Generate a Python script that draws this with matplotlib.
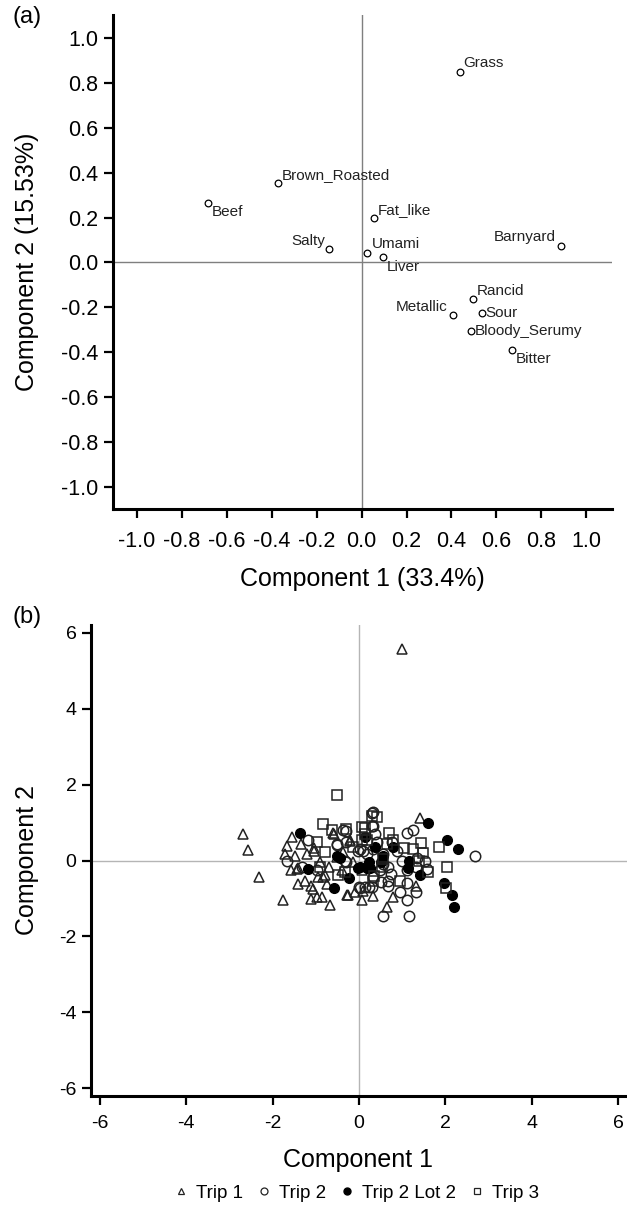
import matplotlib
matplotlib.use("Agg")
import matplotlib.pyplot as plt
from matplotlib.lines import Line2D

plt.rcParams['font.family'] = ['Liberation Sans', 'DejaVu Sans']
plt.rcParams['axes.unicode_minus'] = False

# ---------------- Panel (a) data: attribute loadings ----------------
attributes = ["Grass", "Brown_Roasted", "Beef", "Fat_like", "Salty", "Umami", "Liver",
              "Barnyard", "Rancid", "Metallic", "Sour", "Bloody_Serumy", "Bitter"]
load_c1 = [0.437, -0.374, -0.686, 0.053, -0.143, 0.026, 0.094,
           0.886, 0.495, 0.405, 0.535, 0.486, 0.668]
load_c2 = [0.848, 0.353, 0.263, 0.200, 0.062, 0.040, 0.023,
           0.073, -0.165, -0.232, -0.224, -0.304, -0.388]
ticks_a = [-1.0, -0.8, -0.6, -0.4, -0.2, 0.0, 0.2, 0.4, 0.6, 0.8, 1.0]

# ---------------- Panel (b) data: sample scores ----------------
trip1_x = [-2.68, -2.57, -2.32, -1.76, -1.66, -1.54, -1.71, -1.57, -1.43, -1.40, -1.26, -1.10,
           -1.07, -0.98, -0.85, -0.68, -1.03, -1.21, -1.35, -1.48, -0.90, -0.83, -0.75, -0.69,
           -0.58, -0.36, -0.21, -0.26, -0.10, 0.07, 0.32, 0.10, -0.52, -1.12, -0.96, -0.40,
           -0.13, 0.06, 1.41, 1.32, 0.78, 0.64, -0.59, -0.21, -0.27, -1.04, -1.41, -0.79, 1.00]
trip1_y = [0.70, 0.28, -0.44, -1.04, 0.39, 0.61, 0.16, -0.26, -0.22, -0.63, -0.53, -1.01,
           -0.75, -0.95, -0.96, -1.16, 0.25, 0.16, 0.44, 0.11, -0.04, -0.44, -0.61, -0.16,
           0.70, 0.22, 0.51, -0.92, -0.83, -1.04, -0.94, -0.79, 0.09, -0.66, -0.44, -0.26,
           -0.04, -0.26, 1.12, -0.68, -0.95, -1.23, 0.72, 0.53, -0.92, 0.32, -0.21, -0.39, 5.58]

trip2_x = [-1.19, -1.67, -0.52, -0.38, -0.29, 0.02, 0.29, 0.33, 0.37, 0.02, 0.22, -0.30,
           -1.33, -0.98, 0.18, 1.12, 1.26, 2.69, 0.56, 1.15, 1.10, 0.95, 0.68, 0.68, 1.10,
           1.31, 0.50, 0.99, 1.33, 1.53, 1.58, 1.10, 0.74, 0.68, 0.56, 0.56, 0.87, 1.35,
           0.76, 0.49, 0.29, -0.52, -0.30, 0.10, -0.02, 0.33, 0.41, 0.32, 0.29, 0.14, 0.01,
           0.33, -0.32]
trip2_y = [0.53, 0.00, 0.42, 0.79, 0.77, 0.31, 1.25, 0.92, 0.70, -0.72, -0.70, -0.03,
           -0.18, -0.25, 0.18, 0.72, 0.81, 0.11, -1.47, -1.47, -1.05, -0.83, -0.68, -0.53,
           -0.60, -0.82, -0.57, 0.00, -0.18, 0.00, -0.22, -0.26, -0.35, -0.18, 0.18, -0.09,
           0.26, 0.06, 0.48, -0.26, -0.70, 0.44, 0.48, 0.26, 0.25, 0.31, 0.48, 1.27, 0.92,
           -0.70, -0.70, -0.44, 0.00]

lot2_x = [-1.37, -1.17, -0.58, -0.24, -0.52, -0.44, 0.02, 0.22, 0.18, 1.59, 2.04, 2.30,
          1.97, 2.15, 2.20, 1.41, 1.16, 1.14, 0.79, 0.56, 0.52, -0.02, 0.25, 0.14, 0.37]
lot2_y = [0.72, -0.22, -0.72, -0.46, 0.11, 0.07, -0.18, -0.04, -0.19, 0.98, 0.55, 0.29,
          -0.58, -0.92, -1.23, -0.39, 0.00, -0.19, 0.35, 0.13, -0.04, -0.19, -0.19, 0.61, 0.35]

trip3_x = [-0.51, -0.83, -0.63, -0.29, -0.98, -0.79, -0.48, -0.32, -0.15, 0.08, 0.14, 0.41,
           0.08, 0.33, -0.90, 0.70, 0.78, 0.64, 1.04, 1.24, 1.43, 1.49, 1.84, 2.03, 2.01,
           1.59, 1.38, 0.95, 0.54, 0.56, 0.35, 0.29, 0.14, 0.18]
trip3_y = [1.72, 0.96, 0.81, 0.83, 0.50, 0.22, -0.37, -0.31, 0.35, 0.53, 0.70, 1.14,
           0.88, -0.53, -0.18, 0.73, 0.53, 0.44, 0.33, 0.29, 0.46, 0.19, 0.35, -0.16, -0.72,
           -0.31, -0.02, -0.54, -0.18, 0.03, -0.42, 1.16, 0.86, 0.53]

legend_labels = ["Trip 1", "Trip 2", "Trip 2 Lot 2", "Trip 3"]
ticks_b = [-6, -4, -2, 0, 2, 4, 6]

# ---------------- layout / style ----------------
W, H = 627, 1205
fig = plt.figure(figsize=(W / 100, H / 100), dpi=100)

def px_axes(l, t, r, b):
    return fig.add_axes([l / W, 1 - b / H, (r - l) / W, (b - t) / H])

def style(ax, size, xpad, ypad):
    for s in ['top', 'right']:
        ax.spines[s].set_visible(False)
    for s in ['left', 'bottom']:
        ax.spines[s].set_linewidth(2.2)
    ax.tick_params(direction='out', length=6.5, width=1.6, labelsize=size)
    ax.tick_params(axis='x', pad=xpad)
    ax.tick_params(axis='y', pad=ypad)

# label offsets in pixels (dx, dy, ha)
offsets = {"Grass": (4, 9, 'left'), "Brown_Roasted": (4, 8, 'left'), "Beef": (4, -9, 'left'),
           "Fat_like": (4, 8, 'left'), "Salty": (-4, 8, 'right'), "Umami": (4, 9, 'left'),
           "Liver": (4, -10, 'left'), "Barnyard": (-5, 9, 'right'), "Rancid": (4, 8, 'left'),
           "Metallic": (-5, 8, 'right'), "Sour": (4, 0, 'left'), "Bloody_Serumy": (4, 0, 'left'),
           "Bitter": (4, -9, 'left')}

# Panel (a)
ax1 = px_axes(113, 15, 612, 509)
ax1.axhline(0, color='#7f7f7f', lw=1.0, zorder=1)
ax1.axvline(0, color='#7f7f7f', lw=1.0, zorder=1)
ax1.plot(load_c1, load_c2, linestyle='none', marker='o', ms=4.8, mfc='none',
         mec='black', mew=0.9, zorder=3)
for name, x, y in zip(attributes, load_c1, load_c2):
    dx, dy, ha = offsets[name]
    ax1.annotate(name, (x, y), xytext=(dx * 0.72, dy * 0.72), textcoords='offset points',
                 ha=ha, va='center', fontsize=11, color='#222222')
ax1.set_xlim(-1.107, 1.115)
ax1.set_ylim(-1.098, 1.102)
ax1.set_xticks(ticks_a)
ax1.set_yticks(ticks_a)
ax1.set_xticklabels([f"{t:.1f}" for t in ticks_a])
ax1.set_yticklabels([f"{t:.1f}" for t in ticks_a])
style(ax1, 15.5, 9, 4)

# Panel (b)
ax2 = px_axes(91, 625, 627, 1096)
ax2.axhline(0, color='#b5b5b5', lw=1.0, zorder=1)
ax2.axvline(0, color='#b5b5b5', lw=1.0, zorder=1)
ax2.plot(trip1_x, trip1_y, linestyle='none', marker='^', ms=7.5, mfc='none', mec='#222222', mew=1.1)
ax2.plot(trip2_x, trip2_y, linestyle='none', marker='o', ms=7.5, mfc='none', mec='#222222', mew=1.1)
ax2.plot(lot2_x, lot2_y, linestyle='none', marker='o', ms=7.0, mfc='black', mec='black', mew=1.0)
ax2.plot(trip3_x, trip3_y, linestyle='none', marker='s', ms=7.0, mfc='none', mec='#222222', mew=1.1)
ax2.set_xlim(-6.2, 6.2)
ax2.set_ylim(-6.2, 6.2)
ax2.set_xticks(ticks_b)
ax2.set_yticks(ticks_b)
style(ax2, 14, 7, 4)

# texts
def ftext(x, y, s, **kw):
    fig.text(x / W, 1 - y / H, s, ha='center', va='center', **kw)

ftext(27, 17, "(a)", fontsize=17)
ftext(27, 262, "Component 2 (15.53%)", fontsize=18, rotation=90)
ftext(362, 579, "Component 1 (33.4%)", fontsize=18)
ftext(27, 617, "(b)", fontsize=17)
ftext(27, 860, "Component 2", fontsize=18, rotation=90)
ftext(358, 1160, "Component 1", fontsize=18)

handles = [Line2D([], [], linestyle='none', marker='^', ms=5, mfc='none', mec='#222222', mew=0.9),
           Line2D([], [], linestyle='none', marker='o', ms=5, mfc='none', mec='#222222', mew=0.9),
           Line2D([], [], linestyle='none', marker='o', ms=5, mfc='black', mec='black'),
           Line2D([], [], linestyle='none', marker='s', ms=5, mfc='none', mec='#222222', mew=0.9)]
fig.legend(handles, legend_labels, loc='center', bbox_to_anchor=(356 / W, 1 - 1193 / H),
           ncol=4, frameon=False, fontsize=13.5, handlelength=0.8, handletextpad=0.4,
           columnspacing=0.72, borderpad=0.1)

fig.savefig("out.png", dpi=100)
